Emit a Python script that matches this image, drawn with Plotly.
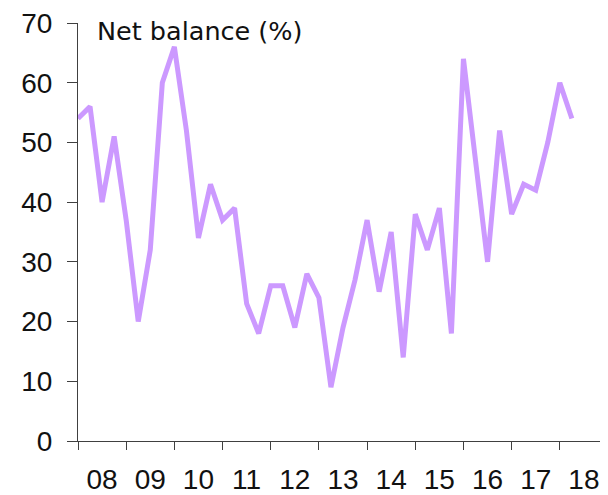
import plotly.graph_objects as go

quarters = [f"{y}Q{q}" for y in range(2008, 2019) for q in range(1, 5)][:42]
net_balance = [54, 56, 40, 51, 37, 20, 32, 60, 66, 52, 34, 43, 37, 39,
               23, 18, 26, 26, 19, 28, 24, 9, 19, 27, 37, 25, 35, 14,
               38, 32, 39, 18, 64, 47, 30, 52, 38, 43, 42, 50, 60, 54]
year_labels = ["08", "09", "10", "11", "12", "13", "14", "15", "16", "17", "18"]
years = list(range(2008, 2019))

x_vals = [int(q[:4]) + (int(q[-1]) - 1) / 4 for q in quarters]

TICK_FONT = "Liberation Sans"
TITLE_FONT = "DejaVu Sans"
AX = "#404040"

fig = go.Figure()
fig.add_trace(go.Scatter(
    x=x_vals, y=net_balance, mode="lines",
    line=dict(color="#CC99FF", width=5),
    hoverinfo="skip", showlegend=False,
))

# page body has an 8px default margin, so the figure is 600x487
fig.update_layout(
    width=600, height=487,
    margin=dict(l=70, r=0, t=15, b=54),
    paper_bgcolor="white", plot_bgcolor="white",
    font=dict(family=TICK_FONT, size=28, color="#111111"),
    xaxis=dict(
        range=[2008, 2019], automargin=False,
        tickvals=[y + 0.5 for y in years], ticktext=year_labels,
        ticks="", showgrid=False, zeroline=False,
        showline=True, linecolor=AX, linewidth=1,
        minor=dict(ticks="outside", ticklen=8, tickcolor=AX, tickwidth=1,
                   tick0=2008, dtick=1, showgrid=False),
        tickfont=dict(family=TICK_FONT, size=28),
        ticklabelstandoff=13,
        ticklabeloverflow="allow",
    ),
    yaxis=dict(
        range=[0, 70], tickvals=list(range(0, 71, 10)), automargin=False,
        ticks="outside", ticklen=10, tickcolor=AX, tickwidth=1,
        showgrid=False, zeroline=False,
        showline=True, linecolor=AX, linewidth=1,
        tickfont=dict(family=TICK_FONT, size=28),
        ticklabelstandoff=9,
        ticklabeloverflow="allow",
    ),
    annotations=[dict(
        text="Net balance (%)", xref="paper", yref="paper",
        x=0.032, y=0.981, xanchor="left", yanchor="middle",
        showarrow=False, font=dict(family=TITLE_FONT, size=25.5, color="#111111"),
    )],
)

fig.write_html("out.html")
